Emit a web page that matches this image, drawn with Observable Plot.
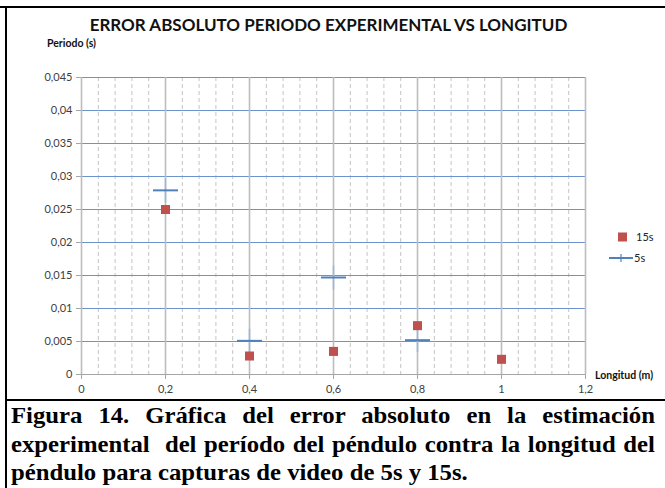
<!DOCTYPE html>
<html>
<head>
<meta charset="utf-8">
<script src="https://cdn.jsdelivr.net/npm/d3@7"></script>
<script src="https://cdn.jsdelivr.net/npm/@observablehq/plot@0.6"></script>
<style>
  html, body { margin: 0; padding: 0; background: #fff; }
  #wrap { position: relative; width: 665px; height: 488px; overflow: hidden; background: #fff; }
  #chart { position: absolute; left: 0; top: 0; }
  .abs { position: absolute; white-space: nowrap; }
  #title { left: 0; width: 657px; top: 14px; text-align: center; font-family: Lato, sans-serif; font-weight: bold; font-size: 17px; color: #111; }
  #ylab { left: 47px; top: 37px; font-family: Lato, sans-serif; font-weight: bold; font-size: 10.5px; color: #111; }
  #xlab { left: 595px; top: 369px; font-family: Lato, sans-serif; font-weight: bold; font-size: 10.5px; color: #111; }
  #legend { left: 606px; top: 228px; font-family: Lato, sans-serif; font-size: 11px; color: #222; }
  .bline { position: absolute; background: #000; }
  #caption { position: absolute; left: 11px; width: 599px; top: 402px; font-family: "Liberation Serif", "Times New Roman", serif; font-weight: bold; font-size: 23px; line-height: 28.5px; color: #000; transform: scaleX(1.075); transform-origin: 0 0; }
  #caption div.j { text-align: justify; text-align-last: justify; }
</style>
</head>
<body>
<div id="wrap">
  <div id="chart"></div>
  <div id="title" class="abs"></div>
  <div id="ylab" class="abs"></div>
  <div id="xlab" class="abs"></div>
  <div id="legend" class="abs"></div>
  <div class="bline" style="left:0;top:6px;width:665px;height:2px"></div>
  <div class="bline" style="left:5px;top:6px;width:2px;height:482px"></div>
  <div class="bline" style="left:5px;top:399px;width:660px;height:2px"></div>
  <div id="caption"></div>
</div>
<script>
// ---- data ----
const titleText = "ERROR ABSOLUTO PERIODO EXPERIMENTAL VS LONGITUD";
const yLabel = "Periodo (s)";
const xLabel = "Longitud (m)";
const seriesNames = ["15s", "5s"];
const longitud15 = [0.2, 0.4, 0.6, 0.8, 1.0];
const error15 = [0.025, 0.0028, 0.0035, 0.0074, 0.0023];
const longitud5 = [0.2, 0.4, 0.6, 0.8];
const error5 = [0.0279, 0.0051, 0.0147, 0.0052];
const xTicks = [0, 0.2, 0.4, 0.6, 0.8, 1.0, 1.2];
const xMinor = [0.04, 0.08, 0.12, 0.16, 0.24, 0.28, 0.32, 0.36, 0.44, 0.48, 0.52, 0.56, 0.64, 0.68, 0.72, 0.76, 0.84, 0.88, 0.92, 0.96, 1.04, 1.08, 1.12, 1.16];
const yTicks = [0, 0.005, 0.01, 0.015, 0.02, 0.025, 0.03, 0.035, 0.04, 0.045];
const captionLines = [
  "Figura 14. Gráfica del error absoluto en la estimación",
  "experimental  del período del péndulo contra la longitud del",
  "péndulo para capturas de video de 5s y 15s."
];

// ---- build ----
const fmt = d => String(+d.toFixed(4)).replace(".", ",");
const data15 = longitud15.map((x, i) => ({x, y: error15[i]}));
const data5 = longitud5.map((x, i) => ({x, y: error5[i]}));

const hDash = { draw(ctx, size) { const r = Math.sqrt(size / Math.PI); ctx.moveTo(-r, 0); ctx.lineTo(r, 0); } };
const vDash = { draw(ctx, size) { const r = Math.sqrt(size / Math.PI); ctx.moveTo(0, -r); ctx.lineTo(0, r); } };

const blue = "#4f81bd";
const red = "#c0504d";

const plot = Plot.plot({
  width: 665,
  height: 400,
  marginLeft: 81,
  marginRight: 80,
  marginTop: 77,
  marginBottom: 26,
  style: { fontFamily: "Lato, sans-serif", fontSize: "11px", color: "#404040", background: "transparent" },
  x: { domain: [0, 1.2] },
  y: { domain: [0, 0.045] },
  marks: [
    Plot.ruleX(xMinor, { stroke: "#c4c4c4", strokeWidth: 1, strokeDasharray: "4,3" }),
    Plot.ruleY(yTicks.filter(d => d > 0), { stroke: "#6d93cc", strokeWidth: 1.2 }),
    Plot.ruleX(xTicks, { stroke: "#bdbdbd", strokeWidth: 1.6 }),
    Plot.ruleY([0], { stroke: "#a6a6a6", strokeWidth: 1.2 }),
    Plot.axisY({ ticks: yTicks, tickFormat: fmt, tickSize: 5, tickPadding: 4, stroke: "#a6a6a6", fill: "#404040", label: null }),
    Plot.axisX({ ticks: xTicks, tickFormat: fmt, tickSize: 5, tickPadding: 6, stroke: "#a6a6a6", fill: "#404040", label: null }),
    Plot.dot(data5, { x: "x", y: "y", symbol: vDash, r: 12, fill: "none", stroke: "#9ab7de", strokeWidth: 1.6 }),
    Plot.dot(data5, { x: "x", y: "y", symbol: hDash, r: 12.5, fill: "none", stroke: blue, strokeWidth: 2 }),
    Plot.dot(data15, { x: "x", y: "y", symbol: "square", r: 5.1, fill: red, stroke: "none" })
  ]
});
document.getElementById("chart").appendChild(plot);

document.getElementById("title").textContent = titleText;
document.getElementById("ylab").textContent = yLabel;
document.getElementById("xlab").textContent = xLabel;

document.getElementById("legend").innerHTML =
  `<svg width="55" height="40" style="position:absolute;left:0;top:0">
     <rect x="12" y="4.5" width="9" height="9" fill="${red}"></rect>
     <line x1="3" y1="30" x2="27" y2="30" stroke="${blue}" stroke-width="2"></line>
     <line x1="15" y1="26" x2="15" y2="34" stroke="${blue}" stroke-width="1.2"></line>
   </svg>
   <div style="position:absolute;left:30px;top:2px">${seriesNames[0]}</div>
   <div style="position:absolute;left:28px;top:23px">${seriesNames[1]}</div>`;

const cap = document.getElementById("caption");
captionLines.forEach((t, i) => {
  const d = document.createElement("div");
  if (i < captionLines.length - 1) d.className = "j";
  d.style.whiteSpace = "pre-wrap";
  d.textContent = t;
  cap.appendChild(d);
});
</script>
</body>
</html>
